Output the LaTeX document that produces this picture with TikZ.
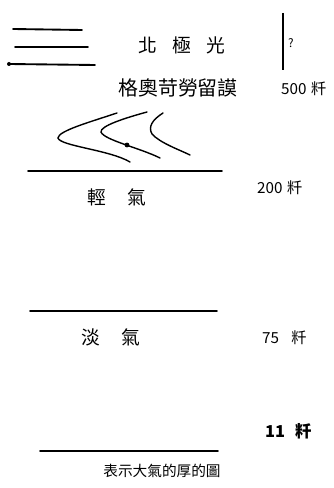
\documentclass[tikz,border=0pt]{standalone}
\usepackage{fontspec}
\setmainfont{Noto Sans CJK TC}

\tikzset{
  layer/.style={line width=1.6pt, line cap=round},
  wave/.style={line width=1.2pt, line cap=round},
  lab/.style={inner sep=0pt, font=\fontsize{16pt}{16pt}\selectfont},
  height/.style={inner sep=0pt, anchor=west, font=\fontsize{13pt}{13pt}\selectfont}
}

\begin{document}
\begin{tikzpicture}[x=0.03cm, y=-0.03cm]
\useasboundingbox (0,0) rectangle (333,488);

% aurora streaks
\draw[layer] (13,29) -- (82,30);
\draw[layer] (15,47) -- (88,47);
\draw[layer] (9,64) -- (95,65);
\fill (9,64) circle (2);

\node[lab] (aurora) at (182,45) {北\hspace{0.8em}極\hspace{0.8em}光};
\draw[line width=1.2pt] (283,13) -- (283,70);
\node[inner sep=0pt, font=\fontsize{10pt}{10pt}\selectfont] (unknown) at (291,43) {?};

\node[lab, font=\fontsize{17pt}{17pt}\selectfont] (geo) at (178,88) {格奧苛勞留謨};
\node[height] (h500) at (281,89) {500\hspace{0.3em}粁};

% hydrogen waves
\draw[wave] (117,113) .. controls (90,122) and (58,131) .. (58,138)
  .. controls (60,146) and (110,150) .. (130,162);
\draw[wave] (147,112) .. controls (125,118) and (100,126) .. (101,132)
  .. controls (104,140) and (140,148) .. (160,158);
\fill (127,145) circle (2.4);
\draw[wave] (163,113) .. controls (152,120) and (148,127) .. (152,134)
  .. controls (160,143) and (180,150) .. (190,155);

\draw[layer] (28,171) -- (222,171);
\node[lab] (hydro) at (117,197) {輕\hspace{1.1em}氣};
\node[height] (h200) at (257,188) {200\hspace{0.3em}粁};

\draw[layer] (30,311) -- (217,311);
\node[lab] (nitro) at (111,337) {淡\hspace{1.1em}氣};
\node[height] (h75) at (262,338) {75\hspace{0.8em}粁};

\node[height, font=\bfseries\fontsize{14pt}{14pt}\selectfont] (h11) at (265,431) {11\hspace{0.6em}粁};
\draw[layer] (40,451) -- (218,451);

\node[inner sep=0pt, font=\fontsize{12.5pt}{12.5pt}\selectfont] (caption) at (162,471) {表示大氣的厚的圖};
\end{tikzpicture}
\end{document}
